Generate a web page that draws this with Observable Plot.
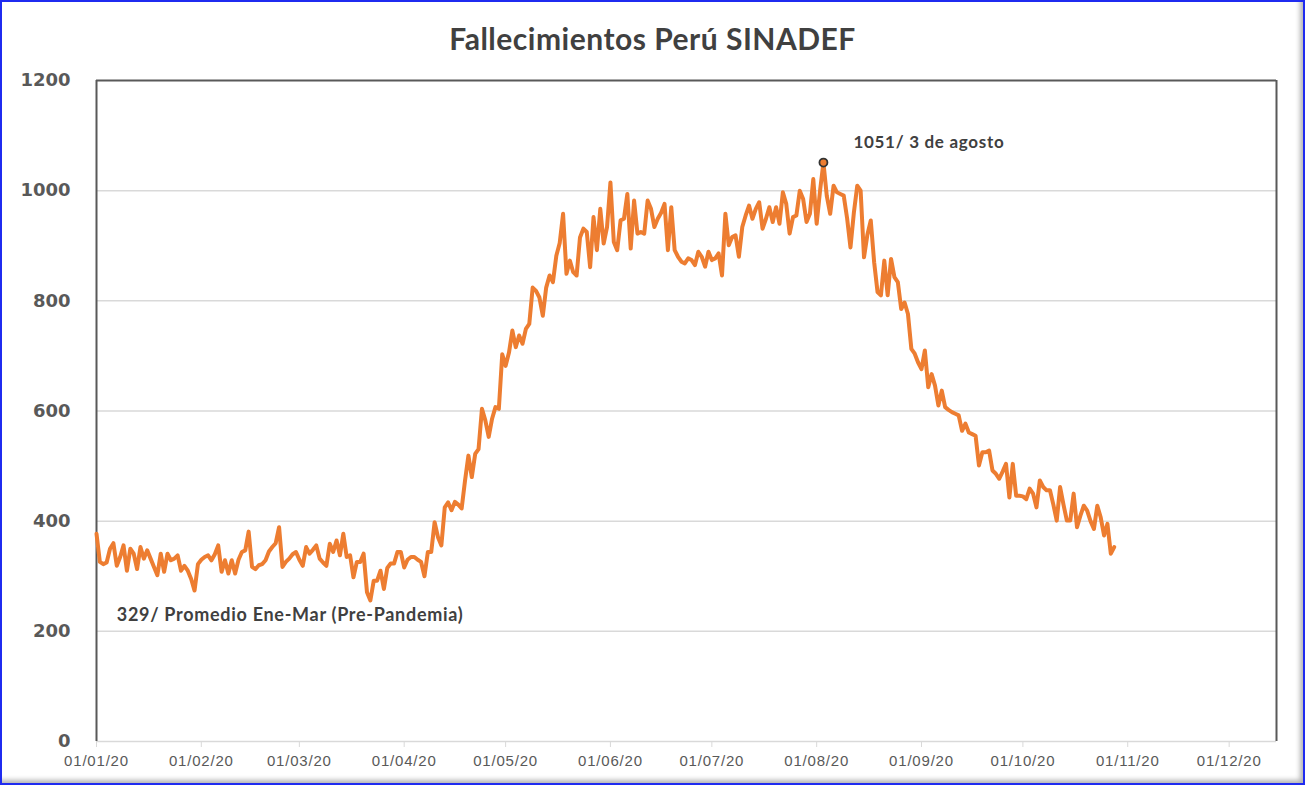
<!DOCTYPE html>
<html><head><meta charset="utf-8">
<script src="https://cdn.jsdelivr.net/npm/d3@7"></script>
<script src="https://cdn.jsdelivr.net/npm/@observablehq/plot@0.6"></script>
<style>
html,body{margin:0;padding:0;background:#fff;}
#wrap{position:relative;width:1305px;height:785px;overflow:hidden;background:#fff;}
#title{position:absolute;left:0;top:21px;width:1305px;height:34px;line-height:34px;text-align:center;font-family:"Lato",sans-serif;font-weight:bold;font-size:30px;letter-spacing:0.5px;color:#404040;}
#chart{position:absolute;left:0;top:64px;}
#frame{position:absolute;left:0;top:0;width:1305px;height:785px;box-sizing:border-box;border:2px solid #1f2bf0;box-shadow:inset -5px -5px 5px -2px rgba(0,0,0,0.3);pointer-events:none;}
[aria-label="x-axis tick label"] text{letter-spacing:0.8px;}
g[aria-label="text"] text{letter-spacing:0.7px;}
</style>
</head><body>
<div id="wrap">
  <div id="title">Fallecimientos Perú SINADEF</div>
  <div id="chart"></div>
  <div id="frame"></div>
</div>
<script>
// Daily deaths (SINADEF)
const monthStarts = ["2020-01-01","2020-02-01","2020-03-01","2020-04-01","2020-05-01","2020-06-01","2020-07-01","2020-08-01","2020-09-01","2020-10-01"];
const jan = [377,326,322,325,350,360,319,335,356,310,350,341,313,353,332,347,332,317,302,341,308,341,329,332,338,310,319,310,295,274,322];
const feb = [330,335,338,329,340,356,308,329,305,329,305,330,344,347,381,317,313,320,322,329,345,353,360,389,317,326,332,340,344];
const mar = [330,319,353,341,348,356,332,325,319,359,344,365,338,377,335,338,298,326,326,341,271,256,292,292,310,277,315,323,323,344,344];
const apr = [316,330,335,335,330,326,300,344,344,398,371,356,425,434,420,435,430,423,474,519,480,522,531,604,583,553,586,607,604,703];
const may = [682,706,746,716,737,722,749,758,824,818,806,773,824,846,834,882,905,958,849,873,852,846,915,931,925,861,952,892,967,904,934];
const jun = [1015,907,892,946,949,994,895,982,922,925,922,982,967,934,949,960,976,892,970,892,880,871,868,877,874,865,889,880,862,889];
const jul = [874,877,886,846,958,901,916,919,880,934,955,973,949,967,979,931,949,970,943,970,940,997,976,922,952,955,1000,985,943,958,1021];
const aug = [940,1000,1051,990,958,1009,997,994,991,950,897,960,1009,1000,879,920,946,870,816,810,873,810,876,843,834,785,797,776,713,704,688];
const sep = [676,710,643,667,646,610,637,607,602,598,595,592,564,577,561,558,555,501,525,525,528,492,486,477,490,504,443,504,446,446];
const oct = [445,440,459,450,425,474,462,456,456,430,401,462,430,401,401,450,389,410,428,419,400,386,428,407,374,395,341,353];
const series = [jan,feb,mar,apr,may,jun,jul,aug,sep,oct];

const yTicks = [0,200,400,600,800,1000,1200];
const gridValues = [200,400,600,800,1000];
const peakLabel = "3 de agosto";
const baseNote = "329/ Promedio Ene-Mar (Pre-Pandemia)";

const data = series.flatMap((vals, i) => {
  const start = new Date(monthStarts[i]);
  return vals.map((v, j) => ({date: d3.utcDay.offset(start, j), value: v}));
});
const peak = d3.greatest(data, d => d.value);

const x0 = new Date("2020-01-01");
const x1 = new Date("2020-12-15");
const monthTicks = d3.utcMonth.range(x0, new Date("2020-12-02"));

const chart = Plot.plot({
  width: 1305,
  height: 721,
  marginTop: 16,
  marginBottom: 44,
  marginLeft: 96,
  marginRight: 29,
  style: {background: "transparent", overflow: "visible"},
  x: {type: "utc", domain: [x0, x1], label: null},
  y: {domain: [0, 1200], label: null},
  marks: [
    Plot.gridY(gridValues, {stroke: "#d9d9d9", strokeOpacity: 1, strokeWidth: 1.5}),
    Plot.ruleY([0], {stroke: "#d9d9d9", strokeWidth: 1.5}),
    Plot.axisX(monthTicks, {label: null, tickFormat: d3.utcFormat("%d/%m/%y"), tickSize: 6, tickPadding: 8, stroke: "#d9d9d9", fill: "#595959", fontSize: 15, fontFamily: "Liberation Sans, Arial, sans-serif"}),
    Plot.axisY(yTicks, {label: null, tickFormat: d => String(d), tickSize: 0, tickPadding: 26, fill: "#595959", fontSize: 18, fontWeight: "bold", fontFamily: "DejaVu Sans, sans-serif"}),
    Plot.ruleY([1200], {stroke: "#595959", strokeWidth: 2}),
    Plot.ruleX([x0, x1], {y1: 0, y2: 1200, stroke: "#595959", strokeWidth: 2}),
    Plot.lineY(data, {x: "date", y: "value", stroke: "#ED7D31", strokeWidth: 4}),
    Plot.dot([peak], {x: "date", y: "value", r: 4, fill: "#ED7D31", stroke: "#333", strokeWidth: 1.8}),
    Plot.text([peak], {x: "date", y: "value", text: d => `${d.value}/ ${peakLabel}`, dx: 30, dy: -20, textAnchor: "start", fill: "#404040", fontSize: 17, fontWeight: "bold", fontFamily: "Lato, sans-serif"}),
    Plot.text([{date: new Date("2020-01-07"), value: 229}], {x: "date", y: "value", text: () => baseNote, textAnchor: "start", fill: "#404040", fontSize: 18, fontWeight: "bold", fontFamily: "Lato, sans-serif"})
  ]
});
document.getElementById("chart").appendChild(chart);
</script>
</body></html>
